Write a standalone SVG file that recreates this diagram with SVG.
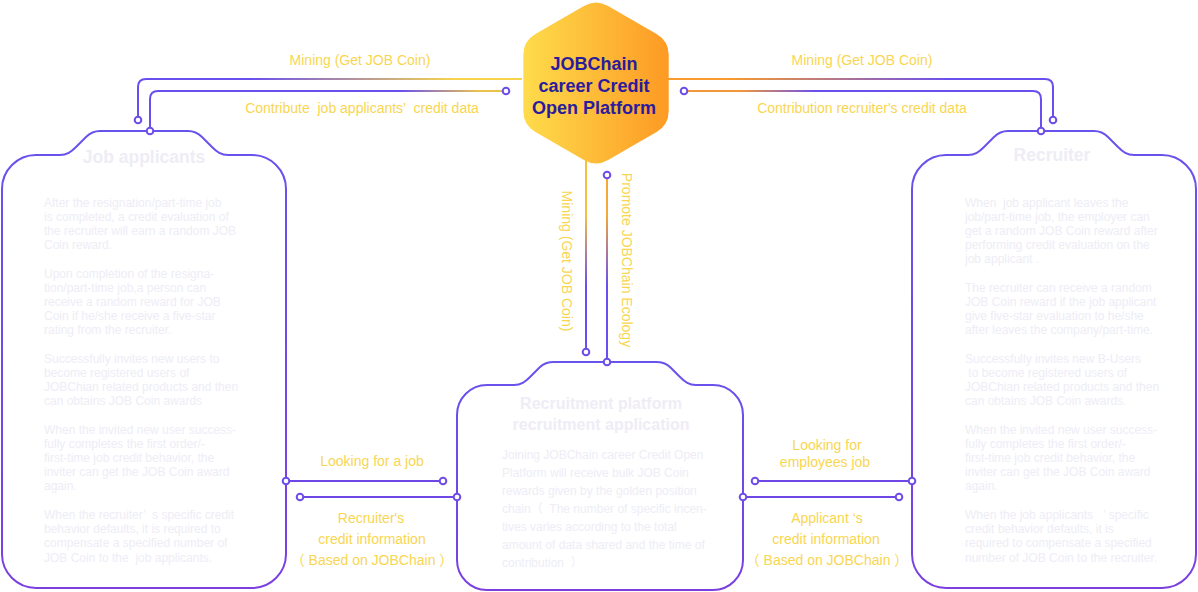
<svg xmlns="http://www.w3.org/2000/svg" width="1198" height="592" viewBox="0 0 1198 592">
<style>
.node{fill:#fff;stroke:url(#gNode);stroke-width:2}
.pin{fill:#fff;stroke:#6d4ce8;stroke-width:2}
.conn{fill:none;stroke-width:2}
.lbl{font-family:"Liberation Sans",Arial,"Noto Sans CJK SC",sans-serif;font-size:14px;fill:#f9d651;text-anchor:middle;white-space:pre}
.ttl{font-family:"Liberation Sans",Arial,sans-serif;font-weight:bold;fill:#eeedf6;text-anchor:middle}
.body{font-family:"Liberation Sans",Arial,"Noto Sans CJK SC",sans-serif;font-size:12px;fill:#eeedf6;white-space:pre}
.hex{font-family:"Liberation Sans",Arial,sans-serif;font-weight:bold;font-size:18px;fill:#2b1b9e;text-anchor:middle}
</style>
<defs>
<linearGradient id="gNode" x1="0" y1="0" x2="0" y2="1"><stop offset="0" stop-color="#6753ee"/><stop offset="1" stop-color="#7b3fe0"/></linearGradient>
<linearGradient id="gHex" x1="0" y1="0" x2="1" y2="0"><stop offset="0" stop-color="#fedc4b"/><stop offset="1" stop-color="#fd9a24"/></linearGradient>
<linearGradient id="gL1" gradientUnits="userSpaceOnUse" x1="250" y1="0" x2="455" y2="0"><stop offset="0" stop-color="#6a4ff0"/><stop offset="1" stop-color="#f7d44c"/></linearGradient>
<linearGradient id="gL2" gradientUnits="userSpaceOnUse" x1="400" y1="0" x2="478" y2="0"><stop offset="0" stop-color="#6a4ff0"/><stop offset="1" stop-color="#eac24e"/></linearGradient>
<linearGradient id="gR1" gradientUnits="userSpaceOnUse" x1="730" y1="0" x2="950" y2="0"><stop offset="0" stop-color="#f89a2c"/><stop offset="1" stop-color="#6a4ff0"/></linearGradient>
<linearGradient id="gR2" gradientUnits="userSpaceOnUse" x1="740" y1="0" x2="815" y2="0"><stop offset="0" stop-color="#f3973a"/><stop offset="1" stop-color="#6a4ff0"/></linearGradient>
<linearGradient id="gV1" gradientUnits="userSpaceOnUse" x1="0" y1="215" x2="0" y2="285"><stop offset="0" stop-color="#f7bf3e"/><stop offset="1" stop-color="#6a4ff0"/></linearGradient>
<linearGradient id="gV2" gradientUnits="userSpaceOnUse" x1="0" y1="215" x2="0" y2="285"><stop offset="0" stop-color="#f4a938"/><stop offset="1" stop-color="#6a4ff0"/></linearGradient>
</defs>

<g id="connectors">
<path class="conn" stroke="url(#gL1)" d="M 522 79 H 146 Q 138 79 138 87 V 116.5"/>
<circle class="pin" cx="138" cy="120" r="3.3"/>
<path class="conn" stroke="url(#gL2)" d="M 502.5 91 H 158 Q 150 91 150 99 V 128"/>
<circle class="pin" cx="506" cy="91" r="3.3" stroke="#e6b44c"/>
<path class="conn" stroke="url(#gR1)" d="M 668 79 H 1045 Q 1053 79 1053 87 V 116.5"/>
<circle class="pin" cx="1053" cy="120" r="3.3"/>
<path class="conn" stroke="url(#gR2)" d="M 687.5 91 H 1033 Q 1041 91 1041 99 V 128"/>
<circle class="pin" cx="684" cy="91" r="3.3" stroke="#f3973a"/>
<path class="conn" stroke="url(#gV1)" d="M 586 158 V 348.5"/>
<circle class="pin" cx="586" cy="352" r="3.3"/>
<path class="conn" stroke="url(#gV2)" d="M 607 178.5 V 359"/>
<circle class="pin" cx="607" cy="175" r="3.3" stroke="#f2a53c"/>
<path class="conn" stroke="#6e47e6" d="M 286 481 H 439.5"/>
<circle class="pin" cx="443" cy="481" r="3.3"/>
<path class="conn" stroke="#6e47e6" d="M 303.5 497 H 457"/>
<circle class="pin" cx="300" cy="497" r="3.3"/>
<path class="conn" stroke="#6e47e6" d="M 758.5 481 H 912"/>
<circle class="pin" cx="755" cy="481" r="3.3"/>
<path class="conn" stroke="#6e47e6" d="M 743 497 H 895.5"/>
<circle class="pin" cx="899" cy="497" r="3.3"/>
<text class="lbl" x="360" y="65">Mining (Get JOB Coin)</text>
<text class="lbl" x="362" y="113">Contribute  job applicants’  credit data</text>
<text class="lbl" x="862" y="65">Mining (Get JOB Coin)</text>
<text class="lbl" x="862" y="113">Contribution recruiter's credit data</text>
<text class="lbl" transform="translate(567 261) rotate(90)" x="0" y="5">Mining (Get JOB Coin)</text>
<text class="lbl" transform="translate(627 260) rotate(90)" x="0" y="5">Promote JOBChain Ecology</text>
<text class="lbl" x="372" y="466">Looking for a job</text>
<text class="lbl" x="371" y="523">Recruiter's</text>
<text class="lbl" x="372" y="544">credit information</text>
<text class="lbl" x="372" y="565">（ Based on JOBChain ）</text>
<text class="lbl" x="827" y="450">Looking for</text>
<text class="lbl" x="825" y="467">employees job</text>
<text class="lbl" x="827" y="523">Applicant ‘s</text>
<text class="lbl" x="826" y="544">credit information</text>
<text class="lbl" x="827" y="565">（ Based on JOBChain ）</text>
</g>

<g id="platform">
<path fill="url(#gHex)" d="M 608.1 6 L 656.6 34 Q 668.7 41 668.7 55 L 668.7 111 Q 668.7 125 656.6 132 L 608.1 160 Q 596 167 583.9 160 L 535.4 132 Q 523.3 125 523.3 111 L 523.3 55 Q 523.3 41 535.4 34 L 583.9 6 Q 596 -1 608.1 6 Z"/>
<text class="hex" x="594" y="70">JOBChain</text>
<text class="hex" x="594" y="92">career Credit</text>
<text class="hex" x="594" y="114">Open Platform</text>
</g>

<g id="job-applicants">
<path class="node" d="M 36 155 H 60 C 67 155 71 152 76 147 L 86 137 C 90 133 94 131 100 131 H 188 C 194 131 198 133 202 137 L 212 147 C 217 152 221 155 228 155 H 252 A 34 34 0 0 1 286 189 V 554 A 34 34 0 0 1 252 588 H 36 A 34 34 0 0 1 2 554 V 189 A 34 34 0 0 1 36 155 Z"/>
<circle class="pin" cx="150" cy="131" r="3.3"/>
<circle class="pin" cx="286" cy="481" r="3.3"/>
<text class="ttl" x="144" y="163" font-size="17.5">Job applicants</text>
<text class="body" y="206.5">
<tspan x="44">After the resignation/part-time job</tspan>
<tspan x="44" dy="14.2">is completed, a credit evaluation of</tspan>
<tspan x="44" dy="14.2">the recruiter will earn a random JOB</tspan>
<tspan x="44" dy="14.2">Coin reward.</tspan>
<tspan x="44" dy="28.4">Upon completion of the resigna-</tspan>
<tspan x="44" dy="14.2">tion/part-time job,a person can</tspan>
<tspan x="44" dy="14.2">receive a random reward for JOB</tspan>
<tspan x="44" dy="14.2">Coin if he/she receive a five-star</tspan>
<tspan x="44" dy="14.2">rating from the recruiter.</tspan>
<tspan x="44" dy="28.4">Successfully invites new users to</tspan>
<tspan x="44" dy="14.2">become registered users of</tspan>
<tspan x="44" dy="14.2">JOBChian related products and then</tspan>
<tspan x="44" dy="14.2">can obtains JOB Coin awards</tspan>
<tspan x="44" dy="28.4">When the invited new user success-</tspan>
<tspan x="44" dy="14.2">fully completes the first order/-</tspan>
<tspan x="44" dy="14.2">first-time job credit behavior, the</tspan>
<tspan x="44" dy="14.2">inviter can get the JOB Coin award</tspan>
<tspan x="44" dy="14.2">again.</tspan>
<tspan x="44" dy="28.4">When the recruiter’  s specific credit</tspan>
<tspan x="44" dy="14.2">behavior defaults, it is required to</tspan>
<tspan x="44" dy="14.2">compensate a specified number of</tspan>
<tspan x="44" dy="14.2">JOB Coin to the  job applicants.</tspan>
</text>
</g>

<g id="recruiter">
<path class="node" d="M 946 155 H 968 C 975 155 979 152 984 147 L 994 137 C 998 133 1002 131 1008 131 H 1094 C 1100 131 1104 133 1108 137 L 1118 147 C 1123 152 1127 155 1134 155 H 1162 A 34 34 0 0 1 1196 189 V 554 A 34 34 0 0 1 1162 588 H 946 A 34 34 0 0 1 912 554 V 189 A 34 34 0 0 1 946 155 Z"/>
<circle class="pin" cx="1041" cy="131" r="3.3"/>
<circle class="pin" cx="912" cy="481" r="3.3"/>
<text class="ttl" x="1052" y="161" font-size="17.5">Recruiter</text>
<text class="body" y="206.5">
<tspan x="965">When  job applicant leaves the</tspan>
<tspan x="965" dy="14.2">job/part-time job, the employer can</tspan>
<tspan x="965" dy="14.2">get a random JOB Coin reward after</tspan>
<tspan x="965" dy="14.2">performing credit evaluation on the</tspan>
<tspan x="965" dy="14.2">job applicant .</tspan>
<tspan x="965" dy="28.4">The recruiter can receive a random</tspan>
<tspan x="965" dy="14.2">JOB Coin reward if the job applicant</tspan>
<tspan x="965" dy="14.2">give five-star evaluation to he/she</tspan>
<tspan x="965" dy="14.2">after leaves the company/part-time.</tspan>
<tspan x="965" dy="28.4">Successfully invites new B-Users</tspan>
<tspan x="965" dy="14.2"> to become registered users of</tspan>
<tspan x="965" dy="14.2">JOBChian related products and then</tspan>
<tspan x="965" dy="14.2">can obtains JOB Coin awards.</tspan>
<tspan x="965" dy="28.4">When the invited new user success-</tspan>
<tspan x="965" dy="14.2">fully completes the first order/-</tspan>
<tspan x="965" dy="14.2">first-time job credit behavior, the</tspan>
<tspan x="965" dy="14.2">inviter can get the JOB Coin award</tspan>
<tspan x="965" dy="14.2">again.</tspan>
<tspan x="965" dy="28.4">When the job applicants   ’ specific</tspan>
<tspan x="965" dy="14.2">credit behavior defaults, it is</tspan>
<tspan x="965" dy="14.2">required to compensate a specified</tspan>
<tspan x="965" dy="14.2">number of JOB Coin to the recruiter.</tspan>
</text>
</g>

<g id="recruitment-platform">
<path class="node" d="M 487 385 H 514 C 521 385 525 382 530 377 L 540 367 C 544 363 548 362 554 362 H 656 C 662 362 666 363 670 367 L 680 377 C 685 382 689 385 696 385 H 713 A 30 30 0 0 1 743 415 V 560 A 30 30 0 0 1 713 590 H 487 A 30 30 0 0 1 457 560 V 415 A 30 30 0 0 1 487 385 Z"/>
<circle class="pin" cx="607" cy="362" r="3.3"/>
<circle class="pin" cx="457" cy="497" r="3.3"/>
<circle class="pin" cx="743" cy="497" r="3.3"/>
<text class="ttl" x="601" y="409" font-size="16">Recruitment platform</text>
<text class="ttl" x="601" y="430" font-size="16">recruitment application</text>
<text class="body" y="458.5">
<tspan x="502">Joining JOBChain career Credit Open</tspan>
<tspan x="502" dy="18.1">Platform will receive bulk JOB Coin</tspan>
<tspan x="502" dy="18.1">rewards given by the golden position</tspan>
<tspan x="502" dy="18.1">chain（  The number of specific incen-</tspan>
<tspan x="502" dy="18.1">tives varies according to the total</tspan>
<tspan x="502" dy="18.1">amount of data shared and the time of</tspan>
<tspan x="502" dy="18.1">contribution  ）</tspan>
</text>
</g>
</svg>
